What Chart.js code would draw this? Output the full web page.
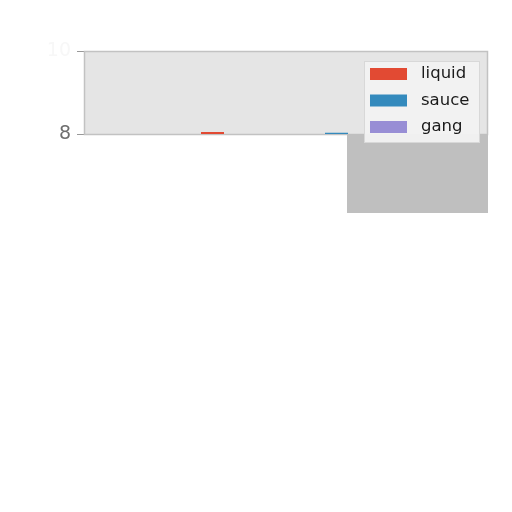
<!DOCTYPE html>
<html><head><meta charset="utf-8">
<script src="https://cdn.jsdelivr.net/npm/chart.js@4"></script>
<style>html,body{margin:0;padding:0;background:#fff}#c{display:block}</style>
</head><body>
<canvas id="c" width="512" height="512"></canvas>
<script>
const categories = ['A', 'B', 'C', 'D'];
const liquid = [7.2, 8.05, 7.5, 7.1];
const sauce = [7.4, 7.6, 8.03, 7.3];
const gang = [7.1, 7.3, 7.7, 7.6];
const seriesNames = ['liquid', 'sauce', 'gang'];
const seriesColors = ['#E24A33', '#348ABD', '#988ED5'];
const yTicks = [8, 10];
const yMin = 8, yMax = 10;

const FONT = '"DejaVu Sans", sans-serif';

const panelPlugin = {
  id: 'panel',
  beforeDatasetsDraw(chart) {
    const {ctx, chartArea: a} = chart;
    ctx.save();
    ctx.fillStyle = '#E5E5E5';
    ctx.fillRect(a.left, a.top, a.right - a.left, a.bottom - a.top);
    ctx.strokeStyle = '#c2c2c2';
    ctx.lineWidth = 1.5;
    ctx.strokeRect(a.left + 0.5, a.top + 0.5, a.right - a.left - 1, a.bottom - a.top);
    ctx.restore();
  },
  afterDraw(chart) {
    const {ctx, chartArea: a} = chart;
    ctx.save();
    // shaded block under legend
    ctx.fillStyle = '#bfbfbf';
    ctx.fillRect(a.right - 141, a.bottom, 141, 79);
    // legend
    const lx = a.right - 124, ly = a.top + 10, lw = 116, lh = 82;
    ctx.fillStyle = 'rgba(242,242,242,0.95)';
    ctx.strokeStyle = '#d8d8d8';
    ctx.lineWidth = 1;
    ctx.fillRect(lx, ly, lw, lh);
    ctx.strokeRect(lx + 0.5, ly + 0.5, lw - 1, lh - 1);
    ctx.font = '16.5px ' + FONT;
    ctx.textBaseline = 'middle';
    chart.data.datasets.forEach((ds, i) => {
      const cy = ly + 13 + i * 26.5;
      ctx.fillStyle = ds.backgroundColor;
      ctx.fillRect(lx + 6, cy - 6, 37, 12);
      ctx.fillStyle = '#1a1a1a';
      ctx.fillText(ds.label, lx + 57, cy);
    });
    ctx.restore();
  }
};

const values = [liquid, sauce, gang];
new Chart(document.getElementById('c'), {
  type: 'bar',
  data: {
    labels: categories,
    datasets: seriesNames.map((n, i) => ({
      label: n,
      data: values[i],
      backgroundColor: seriesColors[i],
      borderWidth: 0
    }))
  },
  options: {
    responsive: false,
    animation: false,
    devicePixelRatio: 1,
    layout: {padding: {top: 51, right: 24, bottom: 378, left: 0}},
    datasets: {bar: {categoryPercentage: 0.683, barPercentage: 1.0}},
    plugins: {legend: {display: false}, tooltip: {enabled: false}},
    scales: {
      x: {display: false},
      y: {
        min: yMin, max: yMax,
        afterBuildTicks: s => { s.ticks = yTicks.map(v => ({value: v})); },
        afterFit: s => { s.width = 84; },
        border: {display: false},
        grid: {drawOnChartArea: false, drawTicks: true, tickLength: 7, color: '#999'},
        ticks: {
          font: {family: FONT, size: 19},
          color: c => c.tick && c.tick.value === yMin ? '#6e6e6e' : '#f7f7f7',
          padding: 6
        }
      }
    }
  },
  plugins: [panelPlugin]
});
</script>
</body></html>
